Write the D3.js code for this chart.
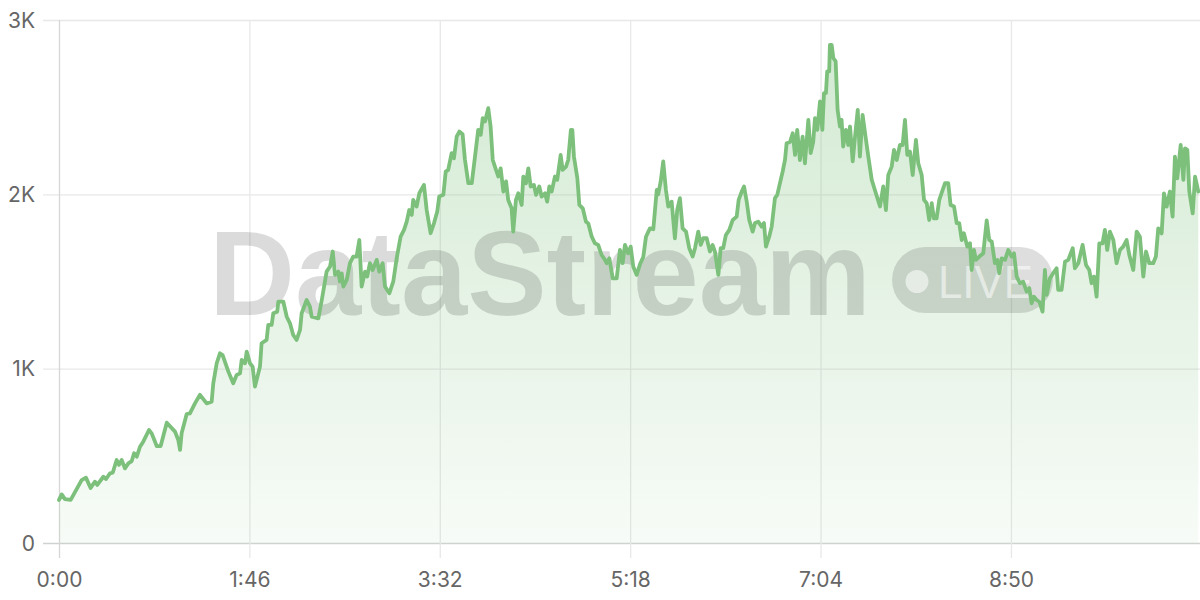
<!DOCTYPE html>
<html>
<head>
<meta charset="utf-8">
<script src="https://cdn.jsdelivr.net/npm/d3@7/dist/d3.min.js"></script>
<style>
  html, body { margin: 0; padding: 0; background: #fff; }
  svg { display: block; }
</style>
</head>
<body>
<svg id="chart" width="1200" height="600"></svg>
<script>
// ---- data (seconds since start, value) ----
const times = [
0,1.5,3.3,6.5,12.6,15.0,17.6,20.0,21.3,24.7,26.2,28.4,29.9,32.1,33.4,34.9,36.7,38.6,40.5,41.8,
43.3,45.1,46.9,50.1,51.6,54.4,56.6,60.0,64.6,66.4,67.4,68.3,71.1,72.9,75.7,78.5,82.2,85.0,85.9,87.8,
89.6,91.1,94.3,97.0,98.9,100.8,101.7,103.6,104.5,106.3,107.8,109.1,111.9,112.8,115.6,116.5,118.4,119.3,121.5,122.1,
124.9,126.8,128.6,130.4,132.3,134.2,135.1,137.9,139.7,140.7,144.4,146.3,149.0,150.9,152.4,153.7,155.5,156.4,157.4,158.3,
160.2,162.0,163.8,165.7,167.2,168.5,170.4,171.6,173.1,174.6,176.9,178.3,180.2,181.5,183.9,186.1,188.0,190.2,192.1,193.6,
195.0,196.4,197.2,199.1,200.6,203.2,204.7,206.9,208.8,210.6,211.7,214.0,215.3,216.7,218.6,219.9,221.4,222.9,224.7,226.0,
227.9,229.8,231.6,233.4,234.8,235.9,237.2,239.0,240.3,241.5,243.3,244.6,245.9,247.4,248.9,250.1,252.0,252.9,254.4,255.7,
257.6,258.5,260.0,261.3,262.6,264.4,265.6,267.4,268.7,270.6,271.8,273.0,274.3,276.1,277.4,279.3,280.4,282.3,283.5,285.0,
285.8,286.7,288.6,289.7,291.6,293.4,294.7,296.6,298.4,300.2,302.1,304.0,304.9,306.4,308.3,310.5,312.3,313.8,315.1,316.9,
318.3,319.7,321.6,323.5,325.3,326.8,329.0,330.9,332.8,333.6,335.0,336.4,337.9,339.2,341.1,342.9,344.2,345.7,347.2,349.1,
350.9,352.8,354.1,355.9,357.3,358.7,360.6,362.4,363.9,365.2,367.1,368.4,369.8,371.3,373.2,375.1,377.3,378.4,380.1,381.4,
382.9,384.3,386.2,387.5,389.3,391.2,392.5,393.6,395.4,396.8,398.6,399.9,401.4,402.9,404.2,405.1,407.0,408.5,409.8,411.0,
412.5,414.0,415.3,417.2,418.5,419.9,420.9,422.2,423.7,425.0,425.9,427.0,427.7,428.8,429.2,430.2,431.1,432.4,433.5,434.8,
435.7,436.6,438.1,439.4,440.4,441.9,443.2,444.7,445.9,447.4,449.3,450.6,452.5,454.8,457.1,458.9,460.4,461.7,463.6,464.9,
466.4,468.2,469.7,471.0,472.3,473.8,475.3,477.1,478.4,480.3,481.6,483.1,484.5,485.9,487.1,488.6,490.1,492.0,493.3,495.1,
496.4,498.3,499.8,501.2,502.6,503.8,505.7,507.2,508.1,509.4,510.5,512.4,514.6,516.5,517.9,519.3,521.1,522.4,523.5,524.8,
526.7,528.5,530.4,531.7,533.2,535.0,536.8,538.7,540.2,541.5,542.8,544.3,545.8,547.6,548.9,549.9,551.7,553.5,555.4,556.3,
558.2,560.1,561.9,564.4,565.6,567.5,569.9,571.8,573.6,574.9,576.2,577.7,579.2,581.0,582.3,583.6,585.1,587.0,588.8,590.7,
592.5,594.4,595.9,598.1,600.0,601.8,603.7,605.2,607.0,609.2,610.7,612.0,613.9,615.2,616.7,618.5,620.0,621.3,622.6,624.5,
626.0,626.9,628.2,629.3,631.2,632.5,634.3
];
const values = [
247,279,252,247,361,375,316,352,333,380,367,400,403,476,448,476,428,457,470,515,
495,552,581,648,629,556,556,690,639,591,534,631,740,744,801,850,801,811,916,1031,
1088,1078,983,916,964,973,1050,1031,1098,1031,1012,897,1012,1146,1165,1251,1251,1318,1327,1384,
1384,1298,1260,1193,1165,1222,1318,1394,1356,1298,1289,1394,1557,1586,1672,1538,1557,1499,1547,1471,
1509,1605,1643,1643,1738,1471,1557,1528,1605,1566,1624,1557,1605,1471,1432,1499,1633,1757,1796,1843,
1910,1882,1968,1930,2006,2054,1910,1777,1835,1901,1987,1997,2130,2140,2236,2207,2331,2360,2345,2200,
2064,2064,2216,2370,2341,2437,2418,2494,2389,2197,2140,2102,2149,2016,2074,1968,1920,1786,1968,2006,
1939,2102,2064,2149,2045,2054,1997,2045,1987,2006,1958,2045,2016,2102,2083,2226,2140,2159,2197,2370,
2370,2216,2092,1939,1920,1843,1833,1757,1719,1710,1652,1624,1605,1633,1518,1518,1681,1605,1710,1662,
1700,1586,1538,1600,1640,1757,1805,1800,2025,2000,2074,2189,2025,1930,1958,1748,1910,1978,1805,1786,
1691,1643,1691,1786,1710,1748,1748,1672,1710,1672,1538,1691,1691,1767,1796,1853,1872,1968,2016,2045,
1958,1853,1786,1835,1843,1815,1835,1700,1757,1815,1978,1997,2064,2130,2197,2293,2300,2350,2226,2370,
2197,2331,2178,2427,2236,2300,2437,2370,2533,2370,2581,2581,2705,2705,2857,2857,2782,2763,2484,2389,
2427,2274,2370,2283,2389,2189,2331,2484,2216,2456,2312,2216,2083,2006,1930,2045,1910,2111,2159,2255,
2197,2283,2283,2427,2226,2245,2111,2312,2178,2111,1968,1949,1853,1949,1862,1862,1968,2025,2064,2064,
1939,1930,1835,1835,1738,1777,1700,1719,1566,1681,1624,1643,1662,1850,1738,1729,1605,1624,1547,1633,
1624,1681,1643,1662,1528,1490,1499,1443,1462,1375,1413,1394,1384,1327,1566,1423,1518,1547,1576,1452,
1452,1614,1624,1691,1576,1605,1710,1595,1566,1490,1528,1413,1719,1719,1796,1681,1786,1738,1605,1681,
1700,1738,1652,1566,1786,1757,1528,1672,1605,1605,1643,1805,1776,2006,1930,2016,1872,2216,2092,2283,
2083,2264,2255,2016,1891,2102,2016
];
const xTickSeconds = [0, 106, 212, 318, 424, 530];
const xTickLabels = ["0:00", "1:46", "3:32", "5:18", "7:04", "8:50"];
const yTickValues = [0, 1000, 2000, 3000];
const yTickLabels = ["0", "1K", "2K", "3K"];
const watermarkText = "DataStream";
const watermarkBadge = "LIVE";

(function () {
const data = times.map((t, i) => ({ t, v: values[i] }));

const svg = d3.select("#chart");
const W = 1200;
const pL = 59, pR = 1199, pT = 20, pB = 543;

const x = d3.scaleLinear().domain([0, 634.7]).range([pL, pR]);
const y = d3.scaleLinear().domain([0, 3000]).range([pB, pT]);

const font = "Inter, 'Liberation Sans', Arial, sans-serif";

// gradient
const defs = svg.append("defs");
const grad = defs.append("linearGradient")
  .attr("id", "areaGrad").attr("gradientUnits", "userSpaceOnUse")
  .attr("x1", 0).attr("x2", 0).attr("y1", y(2900)).attr("y2", y(0));
grad.append("stop").attr("offset", "0%").attr("stop-color", "#7cc07c").attr("stop-opacity", 0.34);
grad.append("stop").attr("offset", "100%").attr("stop-color", "#7cc07c").attr("stop-opacity", 0.06);

// horizontal grid + y labels
const yAxis = d3.axisLeft(y).tickValues(yTickValues)
  .tickFormat((d, i) => yTickLabels[i]).tickSize(0);
const gy = svg.append("g").attr("transform", `translate(${pL},0)`).call(yAxis);
gy.select(".domain").remove();
gy.selectAll(".tick line")
  .attr("x1", 43 - pL).attr("x2", W - pL)
  .attr("stroke", d => d === 0 ? "#cfd3cf" : "#e8e8e8").attr("stroke-width", 1.3);
gy.selectAll(".tick text")
  .attr("x", 35 - pL).attr("dy", "0.34em")
  .attr("fill", "#666").style("font-family", font).style("font-size", "21px")
  .attr("text-anchor", "end");

// vertical grid + x labels
const xAxis = d3.axisBottom(x).tickValues(xTickSeconds)
  .tickFormat((d, i) => xTickLabels[i]).tickSize(0);
const gx = svg.append("g").attr("transform", `translate(0,${pB})`).call(xAxis);
gx.select(".domain").remove();
gx.selectAll(".tick line")
  .attr("y1", pT - pB).attr("y2", 15)
  .attr("stroke", (d, i) => i === 0 ? "#d6d6d6" : "#e8e8e8").attr("stroke-width", 1.3);
gx.selectAll(".tick text")
  .attr("y", 44).attr("dy", 0)
  .attr("fill", "#666").style("font-family", font).style("font-size", "21px")
  .attr("text-anchor", "middle");

// area
const area = d3.area().x(d => x(d.t)).y0(y(0)).y1(d => y(d.v)).curve(d3.curveLinear);
svg.append("path").datum(data).attr("d", area).attr("fill", "url(#areaGrad)");

// watermark
const wm = svg.append("g").attr("class", "watermark");
wm.append("text")
  .attr("x", 209).attr("y", 315)
  .attr("textLength", 662).attr("lengthAdjust", "spacingAndGlyphs")
  .style("font-family", "'Liberation Sans', Arial, sans-serif")
  .style("font-weight", "bold").style("font-size", "121px")
  .attr("fill", "#000").attr("fill-opacity", 0.14)
  .text(watermarkText);
wm.append("rect")
  .attr("x", 892).attr("y", 247).attr("width", 161).attr("height", 66)
  .attr("rx", 33).attr("ry", 33)
  .attr("fill", "#000").attr("fill-opacity", 0.13);
wm.append("circle")
  .attr("cx", 917).attr("cy", 281.5).attr("r", 11.5)
  .attr("fill", "#fff").attr("fill-opacity", 0.55);
wm.append("text")
  .attr("x", 938).attr("y", 297.5)
  .attr("textLength", 95).attr("lengthAdjust", "spacingAndGlyphs")
  .style("font-family", "'Liberation Sans', Arial, sans-serif")
  .style("font-size", "47px")
  .attr("fill", "#fff").attr("fill-opacity", 0.55)
  .text(watermarkBadge);

// line
const line = d3.line().x(d => x(d.t)).y(d => y(d.v)).curve(d3.curveLinear);
svg.append("path").datum(data).attr("d", line)
  .attr("fill", "none").attr("stroke", "#7cc07c").attr("stroke-width", 3.8)
  .attr("stroke-linejoin", "round").attr("stroke-linecap", "round");
})();
</script>
</body>
</html>
